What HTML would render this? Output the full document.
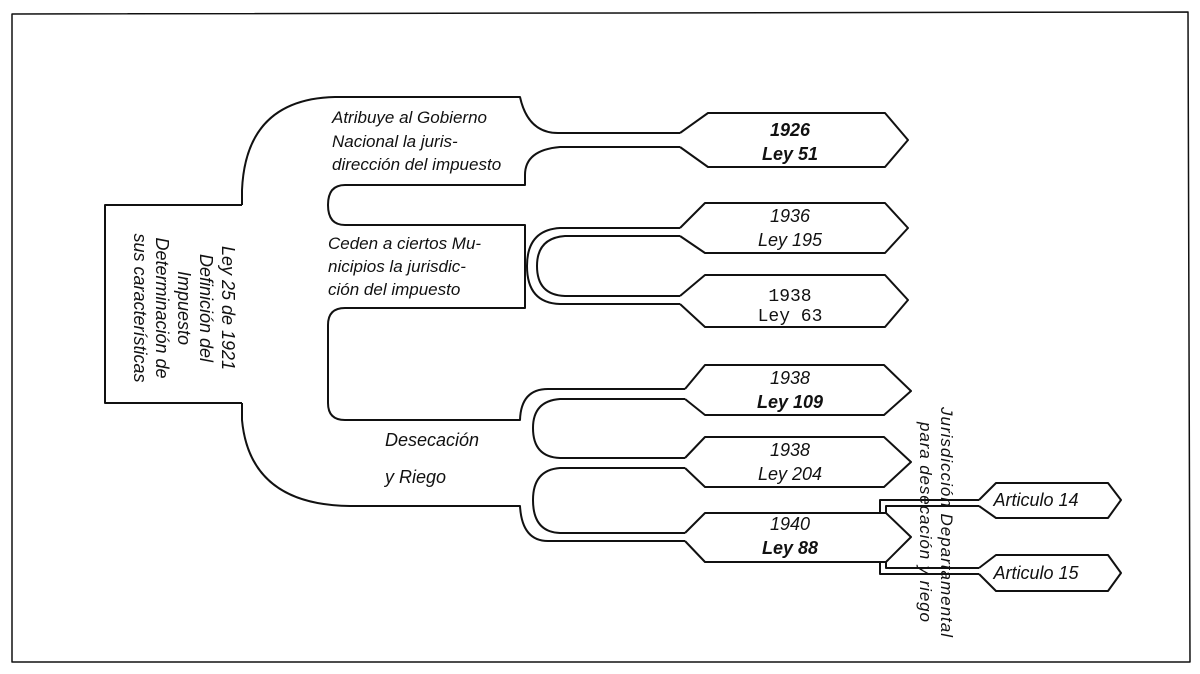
<!DOCTYPE html>
<html><head><meta charset="utf-8"><style>
html,body{margin:0;padding:0;background:#fff;}
svg{display:block}
text{font-family:"Liberation Sans",sans-serif;font-style:italic;fill:#111;}
</style></head><body>
<svg width="1200" height="674" viewBox="0 0 1200 674" xmlns="http://www.w3.org/2000/svg">
<rect width="1200" height="674" fill="#fff"/>
<g fill="none" stroke="#111" stroke-width="2" stroke-linejoin="round">
<path d="M12,14 L1188,12 L1190,662 L12,662 Z" stroke-width="1.5"/>
<path d="M242,205 L105,205 L105,403 L242,403"/>
<path d="M242,205 L242,190 Q246,99 335,97 L520,97 Q528,133 558,133 L680,133"/>
<path d="M680,147 L560,147 Q525,150 525,175 L525,185 L345,185 Q328,185 328,205 Q328,225 345,225 L525,225 L525,308 L345,308 Q328,308 328,325 L328,403 Q328,420 345,420 L520,420 Q521,389 548,389 L685,389"/>
<path d="M680,228 L560,228 Q527,230 527,266 Q527,303 560,304 L680,304"/>
<path d="M680,236 L565,236 Q537,238 537,266 Q537,295 565,296 L680,296"/>
<path d="M685,399 L560,399 Q533,401 533,428 Q533,457 560,458 L685,458"/>
<path d="M685,468 L560,468 Q533,470 533,500 Q533,532 560,533 L685,533"/>
<path d="M242,403 L242,420 Q250,505 350,506 L520,506 Q522,541 548,541 L685,541"/>
<path d="M680,133 L708,113 L885,113 L908,140 L885,167 L708,167 L680,147"/>
<path d="M680,228 L705,203 L885,203 L908,228 L885,253 L705,253 L680,236"/>
<path d="M680,296 L705,275 L885,275 L908,300 L885,327 L705,327 L680,304"/>
<path d="M685,389 L705,365 L884,365 L911,391 L884,415 L705,415 L685,399"/>
<path d="M685,458 L705,437 L884,437 L911,462 L884,487 L705,487 L685,468"/>
<path d="M685,533 L705,513 L886,513 L911,537 L886,562 L705,562 L685,541"/>
<path d="M880,513 L880,500 L979,500"/>
<path d="M886,513 L886,506 L979,506"/>
<path d="M880,562 L880,574 L979,574"/>
<path d="M886,562 L886,568 L979,568"/>
<path d="M979,500 L996,483 L1108,483 L1121,500 L1108,518 L996,518 L979,506"/>
<path d="M979,568 L996,555 L1108,555 L1121,573 L1108,591 L996,591 L979,574"/>
</g>
<g font-size="17">
<text x="332" y="123">Atribuye al Gobierno</text>
<text x="332" y="147">Nacional la juris-</text>
<text x="332" y="170">dirección del impuesto</text>
<text x="328" y="249">Ceden a ciertos Mu-</text>
<text x="328" y="272">nicipios la jurisdic-</text>
<text x="328" y="295">ción del impuesto</text>
<text x="385" y="446" font-size="18">Desecación</text>
<text x="385" y="483" font-size="18">y Riego</text>
</g>
<g font-size="18" text-anchor="middle">
<text x="790" y="136" font-weight="bold">1926</text><text x="790" y="160" font-weight="bold">Ley 51</text>
<text x="790" y="222">1936</text><text x="790" y="246">Ley 195</text>
<text x="790" y="301" style="font-family:'Liberation Mono',monospace;font-style:normal">1938</text><text x="790" y="321" style="font-family:'Liberation Mono',monospace;font-style:normal">Ley 63</text>
<text x="790" y="384">1938</text><text x="790" y="408" font-weight="bold">Ley 109</text>
<text x="790" y="456">1938</text><text x="790" y="480">Ley 204</text>
<text x="790" y="530">1940</text><text x="790" y="554" font-weight="bold">Ley 88</text>
<text x="1036" y="506">Articulo 14</text>
<text x="1036" y="579">Articulo 15</text>
</g>
<g font-size="18" transform="translate(172,308) rotate(90)" text-anchor="middle">
<text x="0" y="-50">Ley 25 de 1921</text>
<text x="0" y="-28">Definición del</text>
<text x="0" y="-6">Impuesto</text>
<text x="0" y="16">Determinación de</text>
<text x="0" y="38">sus características</text>
</g>
<g font-size="17" transform="translate(931,522) rotate(90)" text-anchor="middle">
<text x="0" y="-10" textLength="230">Jurisdicción Departamental</text>
<text x="0" y="11" textLength="200">para desecación y riego</text>
</g>
</svg>
</body></html>
